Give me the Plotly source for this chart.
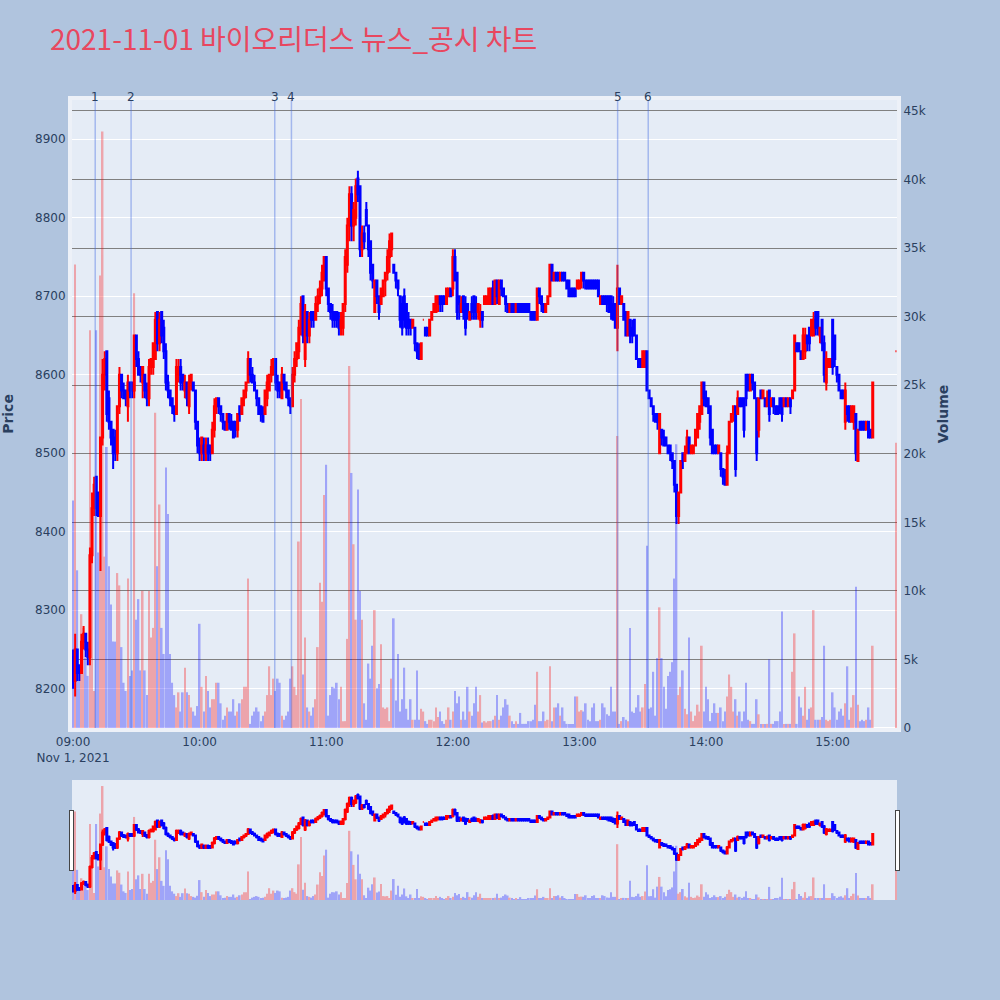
import pandas as pd
import plotly.graph_objects as go
from plotly.subplots import make_subplots

# ---------------- data (1-minute candles, 2021-11-01) ----------------
times = list(pd.date_range("2021-11-01 09:00", "2021-11-01 15:19", freq="min")) + [pd.Timestamp("2021-11-01 15:30")]

opens = [
    8240, 8210, 8250, 8230, 8220, 8260, 8270, 8250, 8240, 8370,
    8430, 8470, 8450, 8420, 8520, 8600, 8630, 8570, 8540, 8530,
    8520, 8500, 8560, 8600, 8580, 8580, 8560, 8590, 8590, 8580,
    8650, 8620, 8610, 8590, 8600, 8580, 8570, 8610, 8610, 8620,
    8680, 8640, 8680, 8660, 8630, 8590, 8580, 8570, 8560, 8550,
    8600, 8610, 8600, 8580, 8590, 8560, 8590, 8590, 8580, 8540,
    8510, 8500, 8510, 8500, 8510, 8510, 8500, 8530, 8560, 8570,
    8560, 8550, 8540, 8530, 8550, 8540, 8540, 8540, 8530, 8560,
    8550, 8570, 8580, 8590, 8620, 8600, 8590, 8580, 8570, 8560,
    8550, 8550, 8570, 8580, 8600, 8600, 8620, 8590, 8590, 8570,
    8600, 8590, 8580, 8570, 8560, 8600, 8620, 8630, 8660, 8700,
    8620, 8680, 8650, 8680, 8680, 8670, 8690, 8700, 8710, 8720,
    8750, 8710, 8690, 8680, 8680, 8680, 8670, 8660, 8660, 8690,
    8740, 8790, 8830, 8790, 8800, 8850, 8840, 8760, 8780, 8810,
    8790, 8770, 8740, 8680, 8720, 8700, 8690, 8700, 8720, 8730,
    8750, 8760, 8740, 8730, 8720, 8700, 8690, 8700, 8690, 8670,
    8670, 8660, 8660, 8640, 8630, 8620, 8670, 8660, 8660, 8650,
    8670, 8680, 8680, 8690, 8700, 8700, 8700, 8690, 8700, 8710,
    8710, 8750, 8730, 8700, 8680, 8700, 8690, 8690, 8670, 8690,
    8700, 8690, 8680, 8670, 8680, 8690, 8690, 8690, 8690, 8710,
    8690, 8720, 8690, 8720, 8710, 8700, 8690, 8680, 8690, 8690,
    8680, 8690, 8690, 8690, 8690, 8690, 8690, 8680, 8680, 8680,
    8670, 8710, 8700, 8690, 8680, 8690, 8700, 8740, 8720, 8730,
    8730, 8720, 8730, 8730, 8720, 8720, 8710, 8710, 8710, 8710,
    8710, 8720, 8730, 8720, 8720, 8720, 8720, 8720, 8720, 8720,
    8690, 8700, 8700, 8700, 8700, 8700, 8690, 8690, 8660, 8710,
    8690, 8690, 8680, 8650, 8670, 8660, 8670, 8650, 8620, 8620,
    8610, 8610, 8630, 8580, 8570, 8560, 8550, 8550, 8500, 8530,
    8520, 8520, 8510, 8510, 8500, 8490, 8460, 8420, 8450, 8500,
    8490, 8500, 8520, 8500, 8500, 8510, 8520, 8540, 8550, 8590,
    8570, 8570, 8560, 8530, 8510, 8510, 8500, 8500, 8480, 8470,
    8460, 8500, 8540, 8550, 8560, 8550, 8570, 8570, 8570, 8600,
    8600, 8580, 8600, 8590, 8570, 8530, 8580, 8570, 8570, 8560,
    8580, 8560, 8570, 8560, 8560, 8570, 8570, 8560, 8570, 8560,
    8570, 8570, 8580, 8640, 8640, 8630, 8620, 8630, 8650, 8660,
    8650, 8650, 8680, 8680, 8650, 8670, 8640, 8590, 8610, 8610,
    8670, 8650, 8610, 8600, 8580, 8580, 8540, 8560, 8560, 8540,
    8540, 8550, 8490, 8540, 8540, 8540, 8530, 8540, 8530, 8520,
    8630,
]

highs = [
    8250, 8270, 8250, 8230, 8270, 8280, 8270, 8260, 8380, 8450,
    8470, 8470, 8450, 8520, 8620, 8630, 8630, 8580, 8540, 8530,
    8530, 8560, 8610, 8600, 8590, 8580, 8600, 8590, 8590, 8650,
    8650, 8630, 8610, 8610, 8600, 8590, 8620, 8620, 8640, 8680,
    8680, 8680, 8680, 8670, 8640, 8600, 8580, 8570, 8560, 8620,
    8620, 8620, 8600, 8600, 8590, 8600, 8600, 8590, 8580, 8540,
    8520, 8520, 8520, 8520, 8520, 8510, 8540, 8570, 8570, 8570,
    8560, 8550, 8540, 8550, 8550, 8550, 8540, 8540, 8550, 8560,
    8570, 8580, 8590, 8630, 8620, 8610, 8600, 8580, 8570, 8560,
    8560, 8580, 8600, 8600, 8620, 8620, 8620, 8600, 8590, 8610,
    8600, 8590, 8580, 8570, 8610, 8630, 8640, 8670, 8700, 8700,
    8690, 8680, 8680, 8680, 8680, 8700, 8710, 8720, 8740, 8750,
    8750, 8710, 8690, 8690, 8680, 8680, 8680, 8680, 8690, 8760,
    8800, 8840, 8840, 8820, 8850, 8860, 8840, 8790, 8790, 8820,
    8790, 8770, 8740, 8720, 8720, 8700, 8710, 8720, 8730, 8760,
    8780, 8780, 8740, 8730, 8720, 8700, 8700, 8710, 8690, 8680,
    8670, 8670, 8660, 8640, 8640, 8640, 8670, 8660, 8660, 8670,
    8680, 8690, 8700, 8700, 8700, 8700, 8700, 8710, 8710, 8710,
    8760, 8760, 8730, 8700, 8700, 8700, 8700, 8690, 8680, 8700,
    8700, 8700, 8690, 8690, 8680, 8700, 8700, 8710, 8710, 8720,
    8720, 8720, 8720, 8720, 8710, 8700, 8690, 8690, 8690, 8690,
    8690, 8690, 8690, 8690, 8690, 8690, 8690, 8680, 8680, 8680,
    8710, 8710, 8700, 8690, 8690, 8700, 8740, 8740, 8730, 8730,
    8730, 8730, 8730, 8730, 8720, 8720, 8710, 8710, 8710, 8720,
    8720, 8730, 8730, 8720, 8720, 8720, 8720, 8720, 8720, 8720,
    8700, 8700, 8700, 8700, 8700, 8700, 8700, 8690, 8740, 8710,
    8700, 8690, 8680, 8680, 8670, 8670, 8670, 8650, 8620, 8620,
    8630, 8630, 8630, 8580, 8570, 8560, 8550, 8550, 8550, 8530,
    8530, 8520, 8510, 8510, 8500, 8490, 8460, 8450, 8490, 8500,
    8510, 8530, 8520, 8510, 8510, 8530, 8550, 8560, 8590, 8590,
    8580, 8570, 8560, 8530, 8510, 8510, 8510, 8500, 8480, 8480,
    8510, 8540, 8550, 8560, 8560, 8580, 8570, 8570, 8570, 8600,
    8600, 8600, 8600, 8590, 8570, 8570, 8580, 8580, 8570, 8580,
    8580, 8570, 8570, 8560, 8560, 8570, 8570, 8570, 8570, 8570,
    8570, 8580, 8650, 8640, 8640, 8630, 8660, 8660, 8650, 8660,
    8670, 8680, 8680, 8680, 8660, 8670, 8650, 8630, 8620, 8620,
    8670, 8650, 8610, 8600, 8580, 8580, 8590, 8560, 8560, 8560,
    8560, 8550, 8530, 8540, 8540, 8540, 8540, 8540, 8530, 8590,
    8630,
]

lows = [
    8200, 8190, 8210, 8210, 8220, 8250, 8240, 8230, 8230, 8360,
    8420, 8420, 8420, 8350, 8510, 8580, 8540, 8530, 8510, 8480,
    8490, 8490, 8550, 8570, 8570, 8560, 8540, 8570, 8570, 8570,
    8610, 8600, 8590, 8570, 8570, 8560, 8560, 8600, 8600, 8620,
    8630, 8630, 8640, 8620, 8580, 8570, 8560, 8550, 8540, 8550,
    8590, 8580, 8580, 8570, 8560, 8550, 8580, 8580, 8530, 8500,
    8490, 8490, 8490, 8490, 8490, 8490, 8500, 8520, 8550, 8550,
    8540, 8530, 8530, 8530, 8530, 8530, 8520, 8520, 8520, 8540,
    8550, 8560, 8570, 8590, 8590, 8590, 8580, 8560, 8550, 8540,
    8540, 8550, 8560, 8580, 8590, 8600, 8580, 8570, 8570, 8570,
    8580, 8570, 8560, 8550, 8560, 8590, 8610, 8620, 8650, 8640,
    8610, 8640, 8640, 8660, 8660, 8670, 8680, 8690, 8700, 8720,
    8700, 8680, 8670, 8660, 8660, 8660, 8650, 8650, 8650, 8680,
    8730, 8770, 8770, 8770, 8790, 8820, 8750, 8750, 8760, 8790,
    8750, 8720, 8710, 8680, 8690, 8670, 8690, 8700, 8700, 8720,
    8730, 8750, 8730, 8710, 8700, 8660, 8650, 8660, 8650, 8650,
    8650, 8660, 8630, 8620, 8620, 8620, 8670, 8650, 8650, 8650,
    8670, 8680, 8680, 8680, 8680, 8680, 8690, 8690, 8700, 8700,
    8700, 8720, 8670, 8670, 8680, 8670, 8650, 8670, 8670, 8670,
    8670, 8670, 8670, 8660, 8660, 8690, 8690, 8690, 8690, 8690,
    8690, 8690, 8690, 8700, 8700, 8680, 8680, 8680, 8680, 8680,
    8680, 8680, 8680, 8680, 8680, 8680, 8680, 8670, 8670, 8670,
    8670, 8690, 8680, 8680, 8680, 8690, 8700, 8720, 8720, 8720,
    8720, 8720, 8720, 8720, 8710, 8700, 8700, 8700, 8700, 8710,
    8710, 8710, 8710, 8710, 8710, 8710, 8710, 8710, 8710, 8700,
    8690, 8690, 8690, 8680, 8680, 8670, 8670, 8660, 8630, 8690,
    8690, 8670, 8650, 8650, 8640, 8640, 8650, 8620, 8610, 8610,
    8610, 8610, 8580, 8570, 8560, 8540, 8540, 8530, 8500, 8510,
    8510, 8510, 8500, 8490, 8480, 8450, 8410, 8410, 8450, 8480,
    8490, 8500, 8500, 8500, 8500, 8510, 8520, 8530, 8550, 8560,
    8560, 8550, 8510, 8500, 8500, 8500, 8500, 8470, 8460, 8460,
    8460, 8500, 8540, 8540, 8470, 8550, 8560, 8560, 8520, 8560,
    8580, 8580, 8580, 8570, 8490, 8520, 8570, 8570, 8560, 8560,
    8540, 8560, 8550, 8550, 8550, 8550, 8540, 8560, 8560, 8560,
    8550, 8570, 8580, 8630, 8630, 8620, 8620, 8620, 8630, 8630,
    8650, 8650, 8650, 8650, 8640, 8630, 8590, 8580, 8610, 8610,
    8600, 8610, 8590, 8580, 8570, 8570, 8530, 8540, 8540, 8540,
    8530, 8490, 8490, 8530, 8530, 8530, 8530, 8520, 8520, 8520,
    8630,
]

closes = [
    8210, 8250, 8220, 8220, 8260, 8270, 8250, 8240, 8370, 8430,
    8460, 8430, 8420, 8520, 8600, 8620, 8550, 8540, 8520, 8500,
    8500, 8560, 8600, 8580, 8570, 8570, 8590, 8580, 8580, 8650,
    8620, 8600, 8600, 8610, 8580, 8570, 8610, 8620, 8640, 8670,
    8640, 8670, 8650, 8630, 8590, 8580, 8570, 8560, 8550, 8610,
    8610, 8590, 8590, 8590, 8570, 8590, 8600, 8580, 8540, 8510,
    8500, 8520, 8500, 8510, 8500, 8500, 8530, 8560, 8570, 8560,
    8550, 8540, 8530, 8550, 8540, 8530, 8520, 8530, 8550, 8550,
    8570, 8580, 8590, 8620, 8600, 8590, 8580, 8570, 8550, 8550,
    8540, 8580, 8590, 8600, 8610, 8620, 8590, 8580, 8580, 8600,
    8590, 8580, 8570, 8560, 8600, 8620, 8640, 8660, 8690, 8650,
    8680, 8650, 8670, 8670, 8670, 8690, 8700, 8710, 8730, 8750,
    8710, 8690, 8680, 8670, 8670, 8670, 8660, 8670, 8690, 8750,
    8790, 8830, 8790, 8810, 8840, 8830, 8760, 8780, 8770, 8790,
    8760, 8730, 8720, 8720, 8700, 8680, 8710, 8720, 8730, 8750,
    8770, 8780, 8730, 8720, 8710, 8670, 8660, 8670, 8660, 8660,
    8660, 8670, 8640, 8630, 8620, 8640, 8670, 8650, 8650, 8670,
    8680, 8690, 8700, 8700, 8690, 8690, 8690, 8710, 8710, 8700,
    8750, 8720, 8680, 8690, 8690, 8680, 8660, 8680, 8680, 8680,
    8680, 8680, 8690, 8680, 8670, 8700, 8700, 8710, 8710, 8690,
    8720, 8700, 8720, 8710, 8700, 8690, 8680, 8690, 8680, 8680,
    8690, 8680, 8680, 8680, 8680, 8680, 8680, 8670, 8670, 8670,
    8710, 8700, 8690, 8680, 8690, 8700, 8740, 8720, 8730, 8720,
    8720, 8730, 8720, 8720, 8710, 8700, 8700, 8700, 8700, 8720,
    8720, 8730, 8720, 8710, 8710, 8710, 8710, 8710, 8710, 8700,
    8700, 8690, 8690, 8690, 8680, 8680, 8670, 8660, 8710, 8690,
    8700, 8670, 8650, 8680, 8650, 8650, 8650, 8620, 8610, 8610,
    8630, 8630, 8580, 8570, 8560, 8550, 8540, 8540, 8550, 8520,
    8510, 8510, 8500, 8500, 8490, 8460, 8420, 8450, 8490, 8490,
    8500, 8520, 8500, 8510, 8510, 8530, 8550, 8560, 8590, 8570,
    8560, 8560, 8520, 8500, 8500, 8500, 8510, 8480, 8470, 8460,
    8500, 8540, 8550, 8560, 8480, 8570, 8560, 8560, 8530, 8570,
    8580, 8600, 8590, 8570, 8500, 8570, 8570, 8580, 8560, 8570,
    8550, 8570, 8560, 8550, 8550, 8560, 8550, 8570, 8560, 8570,
    8560, 8580, 8650, 8630, 8630, 8620, 8650, 8650, 8640, 8640,
    8670, 8670, 8660, 8660, 8660, 8640, 8600, 8620, 8620, 8620,
    8610, 8620, 8600, 8580, 8570, 8570, 8580, 8550, 8540, 8560,
    8560, 8500, 8530, 8530, 8530, 8530, 8540, 8520, 8520, 8590,
    8630,
]

volumes = [
    16600, 33800, 11500, 4200, 8300, 7300, 5100, 3800, 29000, 16000,
    2700, 29000, 12800, 33000, 43500, 12500, 20500, 11800, 9000, 6300,
    6300, 11300, 10400, 5900, 3300, 2700, 10900, 3800, 4200, 31700,
    7900, 9400, 4200, 10000, 4200, 2400, 10000, 6600, 7300, 23000,
    11800, 16300, 7300, 5400, 19000, 15600, 5400, 3300, 2400, 1500,
    2600, 1200, 2600, 4400, 2600, 2400, 1500, 1200, 900, 1600,
    7600, 3000, 1200, 3800, 2700, 1500, 2100, 2100, 3300, 3300,
    1800, 600, 900, 1500, 1200, 1200, 2100, 900, 1200, 1800,
    2100, 3000, 3000, 10900, 300, 900, 1200, 1500, 1200, 500,
    900, 1200, 2400, 4500, 2400, 3600, 2700, 3600, 3300, 900,
    600, 900, 1200, 3600, 4500, 3000, 2400, 13600, 24000, 3900,
    6600, 1500, 1200, 900, 1500, 2100, 5900, 10600, 9200, 17000,
    19200, 900, 2400, 3000, 2900, 3300, 2100, 3000, 500, 500,
    6500, 26400, 18600, 13400, 7900, 17400, 10000, 7900, 1800, 600,
    4700, 3600, 6000, 8600, 2900, 3200, 6100, 1500, 1400, 1500,
    500, 3600, 8000, 2000, 5400, 1200, 2100, 4400, 1400, 600,
    2100, 600, 600, 4200, 600, 1400, 1200, 500, 300, 600,
    600, 500, 1500, 800, 1200, 500, 300, 600, 1500, 600,
    1200, 2700, 1800, 2300, 600, 1200, 600, 3000, 1200, 900,
    1800, 3000, 1200, 2400, 400, 500, 400, 500, 500, 600,
    900, 2400, 600, 900, 1500, 2100, 1700, 900, 500, 300,
    500, 300, 1100, 300, 300, 300, 500, 500, 600, 1700,
    4100, 500, 500, 1200, 500, 600, 4500, 500, 1500, 1500,
    1800, 900, 1500, 500, 300, 300, 300, 300, 2300, 2300,
    1200, 1300, 1200, 1800, 600, 500, 1500, 1800, 500, 500,
    600, 1800, 1500, 1000, 900, 3000, 1200, 1200, 21300, 300,
    500, 800, 600, 500, 7300, 1200, 1100, 1500, 2400, 1200,
    1500, 3200, 13300, 1400, 1500, 4100, 900, 5100, 8800, 5100,
    3000, 1400, 3800, 4100, 4800, 10900, 20700, 2400, 3000, 4200,
    1400, 1000, 6600, 1200, 500, 900, 1700, 1200, 6000, 1200,
    3000, 2100, 500, 1100, 1800, 1100, 1100, 1500, 500, 1200,
    2300, 3900, 3000, 1200, 2100, 900, 1200, 500, 1200, 3300,
    600, 500, 300, 300, 2100, 1000, 300, 300, 300, 300,
    5000, 300, 300, 500, 500, 1200, 8500, 300, 300, 300,
    300, 4100, 6900, 300, 2300, 1500, 900, 3000, 600, 1400,
    1500, 8600, 600, 600, 600, 800, 6000, 600, 500, 600,
    2600, 1500, 600, 1200, 1400, 900, 1800, 4500, 600, 1500,
    2400, 10300, 1700, 500, 600, 500, 600, 1500, 600, 6000,
    20800,
]

news_times = [
    "2021-11-01 09:10:30", "2021-11-01 09:27:30", "2021-11-01 10:35:36",
    "2021-11-01 10:43:30", "2021-11-01 13:18:06", "2021-11-01 13:32:36",
]
news_labels = ["1", "2", "3", "4", "5", "6"]

# ---------------- figure ----------------
vol_colors = []
prev = None
for o, c in zip(opens, closes):
    up = c > o or (c == o and (prev is None or c >= prev))
    vol_colors.append("red" if up else "blue")
    prev = c

fig = make_subplots(specs=[[{"secondary_y": True}]])

fig.add_trace(
    go.Candlestick(
        x=times, open=opens, high=highs, low=lows, close=closes,
        increasing=dict(line=dict(color="red"), fillcolor="red"),
        decreasing=dict(line=dict(color="blue"), fillcolor="blue"),
        name="Price", showlegend=False,
    ),
    secondary_y=False,
)
fig.add_trace(
    go.Bar(x=times, y=volumes, marker=dict(color=vol_colors, line_width=0),
           opacity=0.3, name="Volume", showlegend=False),
    secondary_y=True,
)

for t, lab in zip(news_times, news_labels):
    fig.add_shape(type="line", xref="x", yref="paper", x0=t, x1=t, y0=0, y1=1,
                  line=dict(color="rgba(65,105,225,0.4)", width=1.5))
    fig.add_annotation(x=t, y=1, xref="x", yref="paper", text=lab, showarrow=False,
                       yanchor="middle", yshift=3, font=dict(size=12, color="#2a3f5f"))

fig.update_layout(
    width=1000, height=1000,
    paper_bgcolor="lightsteelblue",
    font=dict(family="Verdana, DejaVu Sans, sans-serif", size=12, color="#2a3f5f"),
    title=dict(text="2021-11-01 바이오리더스 뉴스_공시 차트",
               font=dict(family="Noto Sans CJK KR", size=28, color="#E8475F"),
               x=0.05, xanchor="left", y=0.96, yanchor="middle"),
    margin=dict(l=72, r=103, t=100, b=100),
    showlegend=False,
    bargap=0.2,
)
fig.update_xaxes(domain=[0, 1], rangeslider=dict(visible=True), automargin=False,
                 showline=True, linewidth=4, linecolor="#EDF1F8", mirror=True)
fig.update_yaxes(title_text="<b>Price</b>", range=[8150, 8950], automargin=False,
                 showline=True, linewidth=4, linecolor="#EDF1F8",
                 title_standoff=20, secondary_y=False)
fig.update_yaxes(title_text="<b>Volume</b>", range=[0, 45800], gridcolor="gray",
                 automargin=False, showline=True, linewidth=4, linecolor="#EDF1F8",
                 secondary_y=True)

fig.write_html("out.html", config={"displayModeBar": False},
               post_script="document.body.style.margin='0';")
